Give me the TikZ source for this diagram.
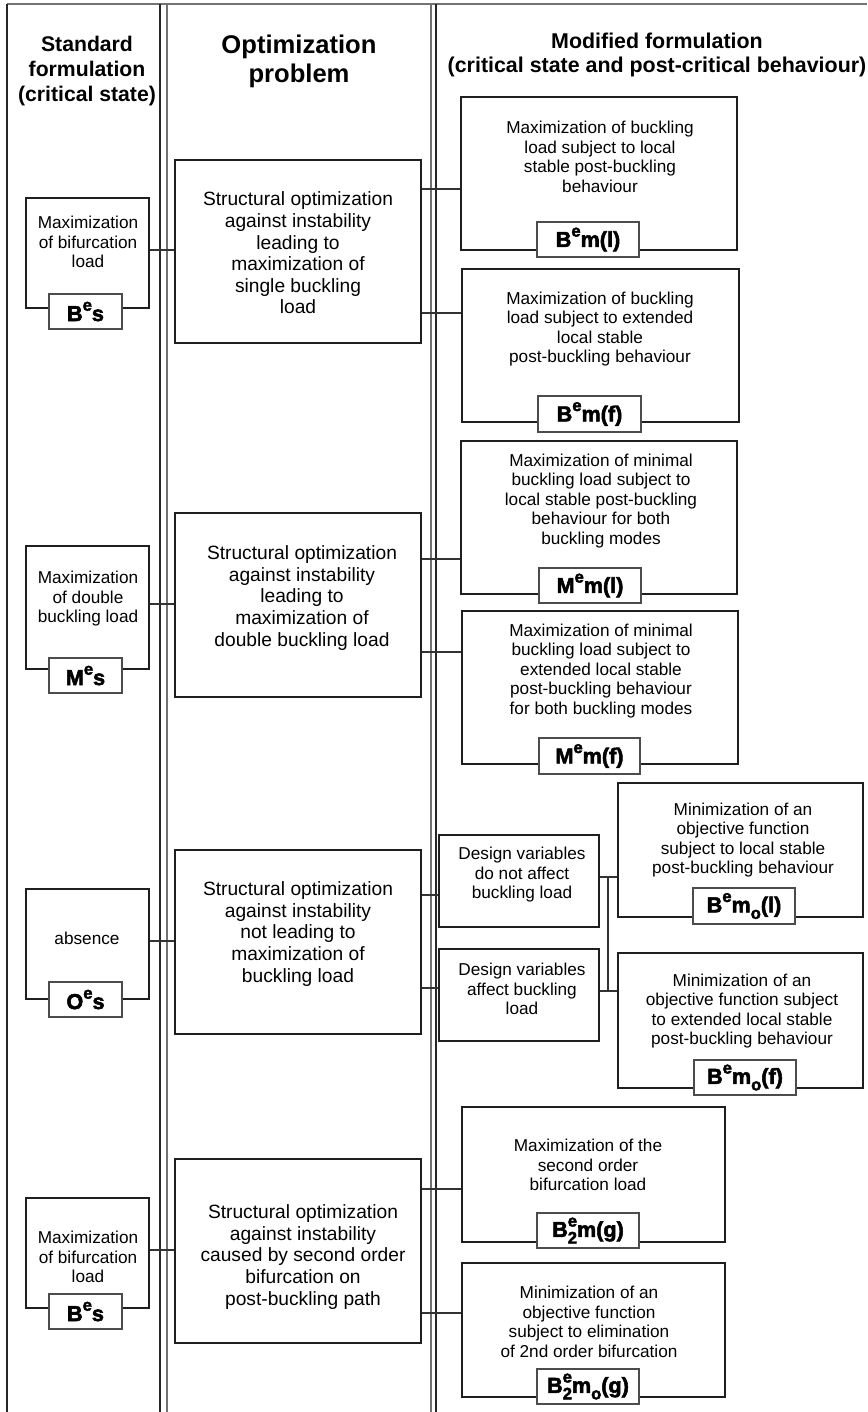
\documentclass[tikz,border=0pt]{standalone}
\usepackage{fontspec}
\setmainfont{Liberation Sans}
\newfontfamily\heavyfont[FakeBold=2.5]{Liberation Sans Bold}
% raised / lowered indices inside the heavy labels
\newcommand\upe{\raisebox{0.48em}{\fontsize{8.3}{8.3}\selectfont e}}
\newcommand\dno{\raisebox{-0.3em}{\fontsize{8.3}{8.3}\selectfont o}}
\newcommand\lowtwo{\raisebox{-0.3em}{\fontsize{8.3}{8.3}\selectfont 2}}
% rectangle node given by its corners: style, name, x1, y1, x2, y2, text
\newcommand\boxat[7]{\node[#1, inner sep=0pt,
  minimum width={(#5-#3)*0.5pt}, minimum height={(#6-#4)*0.5pt}]
  (#2) at ({(#3+#5)/2},{(#4+#6)/2}) {#7};}
% horizontal connector between two nodes at a given height
\newcommand\hcon[3]{\draw[link] (#1.east |- 0,#3) -- (#2.west |- 0,#3);}
\begin{document}
\begin{tikzpicture}[x=0.5pt,y=-0.5pt,
  frame/.style={draw=black!88, line width=0.7pt},
  tagbox/.style={draw=black!70, fill=white, line width=0.65pt,
    font=\heavyfont\fontsize{10.8}{12}\selectfont},
  link/.style={draw=black!80, line width=0.6pt},
  rule/.style={draw=black!85, line width=0.7pt},
  rulegray/.style={draw=black!55, line width=0.7pt},
  body/.style={align=center, inner sep=0pt, font=\fontsize{8.6}{9.75}\selectfont},
  bigbody/.style={align=center, inner sep=0pt, font=\fontsize{9.6}{10.8}\selectfont},
  head/.style={align=center, inner sep=0pt}]
\useasboundingbox (0,0) rectangle (867,1412);

% column frames
\draw[rulegray] (7,4) -- (867,4);
\draw[rule] (7,4) -- (7,1412);
\draw[rule] (160,4) -- (160,1412);
\draw[rulegray] (167,4) -- (167,1412);
\draw[rulegray] (431,4) -- (431,1412);
\draw[rule] (436,4) -- (436,1412);

% column headings
\node[head, font=\bfseries\fontsize{10.6}{12.5}\selectfont] (h1) at (87,71)
  {Standard\\formulation\\(critical state)};
\node[head, font=\bfseries\fontsize{12.8}{14.5}\selectfont] (h2) at (299,61)
  {Optimization\\problem};
\node[head, font=\bfseries\fontsize{10.7}{11.8}\selectfont] (h3) at (657,55)
  {Modified formulation\\(critical state and post-critical behaviour)};

% standard formulation
\boxat{frame}{L1}{26}{198}{149}{308}{}
\node[body] at (88,242) {Maximization\\of bifurcation\\load};
\boxat{tagbox}{L1t}{49}{294}{122}{329}{B\upe s}
\boxat{frame}{L2}{26}{546}{149}{669}{}
\node[body] at (88,599) {Maximization\\of double\\buckling load};
\boxat{tagbox}{L2t}{49}{658}{122}{693}{M\upe s}
\boxat{frame}{L3}{26}{889}{149}{999}{}
\node[body] at (87,938) {absence};
\boxat{tagbox}{L3t}{49}{982}{122}{1017}{O\upe s}
\boxat{frame}{L4}{26}{1198}{149}{1308}{}
\node[body] at (88,1257) {Maximization\\of bifurcation\\load};
\boxat{tagbox}{L4t}{49}{1294}{122}{1329}{B\upe s}

% optimization problems
\boxat{frame}{M1}{175}{160}{421}{343}{}
\node[bigbody] at (298,253) {Structural optimization\\against instability\\leading to\\maximization of\\single buckling\\load};
\boxat{frame}{M2}{175}{513}{421}{697}{}
\node[bigbody] at (302,598) {Structural optimization\\against instability\\leading to\\maximization of\\double buckling load};
\boxat{frame}{M3}{175}{850}{421}{1034}{}
\node[bigbody] at (298,934) {Structural optimization\\against instability\\not leading to\\maximization of\\buckling load};
\boxat{frame}{M4}{175}{1159}{421}{1343}{}
\node[bigbody] at (303,1257) {Structural optimization\\against instability\\caused by second order\\bifurcation on\\post-buckling path};

% modified formulation
\boxat{frame}{R1}{461}{97}{737}{250}{}
\node[body] at (600,157) {Maximization of buckling\\load subject to local\\stable post-buckling\\behaviour};
\boxat{tagbox}{R1t}{537}{222}{639}{257}{B\upe m(l)}
\boxat{frame}{R2}{462}{269}{739}{422}{}
\node[body] at (600,329) {Maximization of buckling\\load subject to extended\\local stable\\post-buckling behaviour};
\boxat{tagbox}{R2t}{538}{396}{641}{432}{B\upe m(f)}
\boxat{frame}{R3}{461}{441}{737}{594}{}
\node[body] at (601,501) {Maximization of minimal\\buckling load subject to\\local stable post-buckling\\behaviour for both\\buckling modes};
\boxat{tagbox}{R3t}{539}{568}{641}{603}{M\upe m(l)}
\boxat{frame}{R4}{462}{611}{738}{764}{}
\node[body] at (601,671) {Maximization of minimal\\buckling load subject to\\extended local stable\\post-buckling behaviour\\for both buckling modes};
\boxat{tagbox}{R4t}{539}{738}{640}{774}{M\upe m(f)}

\boxat{frame}{D1}{439}{835}{599}{927}{}
\node[body] at (522,875) {Design variables\\do not affect\\buckling load};
\boxat{frame}{D2}{439}{949}{599}{1041}{}
\node[body] at (522,989) {Design variables\\affect buckling\\load};

\boxat{frame}{R5}{618}{783}{863}{917}{}
\node[body] at (743,840) {Minimization of an\\objective function\\subject to local stable\\post-buckling behaviour};
\boxat{tagbox}{R5t}{693}{888}{795}{924}{B\upe m\dno(l)}
\boxat{frame}{R6}{618}{953}{863}{1088}{}
\node[body] at (742,1011) {Minimization of an\\objective function subject\\to extended local stable\\post-buckling behaviour};
\boxat{tagbox}{R6t}{694}{1060}{796}{1095}{B\upe m\dno(f)}

\boxat{frame}{R7}{462}{1107}{725}{1242}{}
\node[body] at (588,1165) {Maximization of the\\second order\\bifurcation load};
\boxat{tagbox}{R7t}{537}{1213}{639}{1248}{B\rlap{\upe}\lowtwo m(g)}
\boxat{frame}{R8}{462}{1263}{725}{1397}{}
\node[body] at (589,1322) {Minimization of an\\objective function\\subject to elimination\\of 2nd order bifurcation};
\boxat{tagbox}{R8t}{537}{1369}{639}{1404}{B\rlap{\upe}\lowtwo m\dno(g)}

% connectors
\hcon{L1}{M1}{250}
\hcon{L2}{M2}{604}
\hcon{L3}{M3}{941}
\hcon{L4}{M4}{1250}
\hcon{M1}{R1}{189}
\hcon{M1}{R2}{313}
\hcon{M2}{R3}{559}
\hcon{M2}{R4}{652}
\hcon{M3}{D1}{895}
\hcon{M3}{D2}{988}
\hcon{M4}{R7}{1189}
\hcon{M4}{R8}{1313}
\hcon{D1}{R5}{877}
\hcon{D2}{R6}{991}
\coordinate (busTop) at (608,877);
\coordinate (busBot) at (608,991);
\draw[link] (busTop) -- (busBot);
\end{tikzpicture}
\end{document}
